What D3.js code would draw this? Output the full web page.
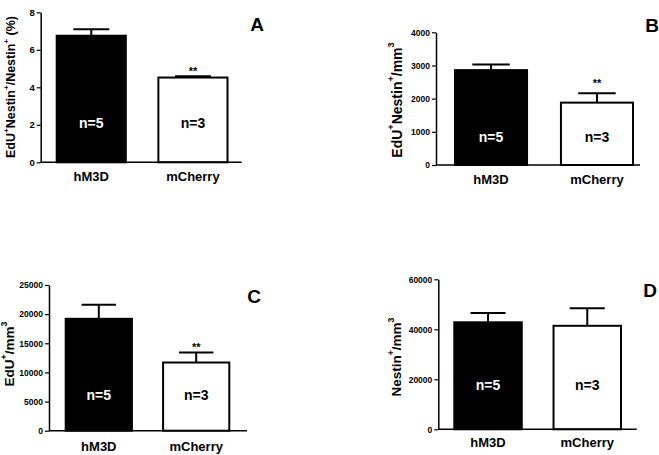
<!DOCTYPE html>
<html><head><meta charset="utf-8">
<script src="https://cdn.jsdelivr.net/npm/d3@7"></script>
<style>
body{margin:0;background:#fff}
svg text{font-family:"Liberation Sans",Arial,sans-serif;font-weight:bold;fill:#000}
</style>
</head><body>
<svg id="chart" width="659" height="455"></svg>
<script>
// ---- data ----
const categories = ["hM3D", "mCherry"];
const nLabels = ["n=5", "n=3"];

const meansA = [6.75, 4.52];
const semA   = [0.35, 0.07];
const ticksA = [0, 2, 4, 6, 8];

const meansB = [2860, 1880];
const semB   = [170, 280];
const ticksB = [0, 1000, 2000, 3000, 4000];

const meansC = [19200, 11700];
const semC   = [2400, 1700];
const ticksC = [0, 5000, 10000, 15000, 20000, 25000];

const meansD = [42800, 41400];
const semD   = [3700, 7000];
const ticksD = [0, 20000, 40000, 60000];

const sigA = ["", "**"], sigB = ["", "**"], sigC = ["", "**"], sigD = ["", ""];

const labelA = [["EdU",0],["+",1],["Nestin",0],["+",1],["/Nestin",0],["+",1],[" (%)",0]];
const labelB = [["EdU",0],["+",1],["Nestin",0],["+",1],["/mm",0],["3",1]];
const labelC = [["EdU",0],["+",1],["/mm",0],["3",1]];
const labelD = [["Nestin",0],["+",1],["/mm",0],["3",1]];

// ---- layout ----
const panels = [
  {letter:"A", means:meansA, sem:semA, ticks:ticksA, sig:sigA, label:labelA,
   ax:40.7, right:241.7, yTop:12.3, y0:162.3, b0:56.7, b1:227.5, tickFont:9.5,
   labX:12, labY:87, labFont:12.5, nY:128, catY:181, letX:257, letY:31, starOff:4},
  {letter:"B", means:meansB, sem:semB, ticks:ticksB, sig:sigB, label:labelB,
   ax:436, right:640, yTop:32.3, y0:165, b0:455, b1:633, tickFont:8.5,
   labX:398, labY:100, labFont:14, nY:142, catY:184, letX:652, letY:32, starOff:9},
  {letter:"C", means:meansC, sem:semC, ticks:ticksC, sig:sigC, label:labelC,
   ax:49, right:247, yTop:285, y0:430.7, b0:65.7, b1:229.3, tickFont:8.5,
   labX:10, labY:354, labFont:13.5, nY:400, catY:451, letX:254, letY:303, starOff:5},
  {letter:"D", means:meansD, sem:semD, ticks:ticksD, sig:sigD, label:labelD,
   ax:438.3, right:636.7, yTop:279.3, y0:429.3, b0:454.3, b1:621, tickFont:8.5,
   labX:397, labY:357, labFont:13.5, nY:390, catY:447, letX:650, letY:297, starOff:5}
];

const svg = d3.select("#chart");

panels.forEach(p => {
  const g = svg.append("g");
  const dmax = p.ticks[p.ticks.length - 1];
  const y = d3.scaleLinear().domain([0, dmax]).range([p.y0, p.yTop]);
  const x = d3.scaleBand().domain(categories).range([p.b0, p.b1])
              .paddingInner(0.32).paddingOuter(0);
  const bw = x.bandwidth();

  // bars
  g.selectAll("rect.bar").data(categories).join("rect")
    .attr("x", (c) => x(c))
    .attr("y", (c, i) => y(p.means[i]))
    .attr("width", bw)
    .attr("height", (c, i) => p.y0 - y(p.means[i]))
    .attr("fill", (c, i) => i === 0 ? "#000" : "#fff")
    .attr("stroke", "#000").attr("stroke-width", 2);

  // error bars (upper only)
  categories.forEach((c, i) => {
    const cx = x(c) + bw / 2;
    const top = y(p.means[i] + p.sem[i]);
    g.append("line").attr("x1", cx).attr("x2", cx)
      .attr("y1", y(p.means[i])).attr("y2", top)
      .attr("stroke", "#000").attr("stroke-width", 2);
    g.append("line").attr("x1", cx - bw * 0.26).attr("x2", cx + bw * 0.26)
      .attr("y1", top).attr("y2", top)
      .attr("stroke", "#000").attr("stroke-width", 2);
    if (p.sig[i]) {
      g.append("text").attr("x", cx).attr("y", top - p.starOff + 3)
        .attr("text-anchor", "middle").attr("font-size", 11).text(p.sig[i]);
    }
    g.append("text").attr("x", cx).attr("y", p.nY)
      .attr("text-anchor", "middle").attr("font-size", 14)
      .style("fill", i === 0 ? "#fff" : "#000").text(nLabels[i]);
    g.append("text").attr("x", cx).attr("y", p.catY)
      .attr("text-anchor", "middle").attr("font-size", 13).text(c);
  });

  // y axis
  const ya = g.append("g").attr("transform", `translate(${p.ax},0)`)
    .call(d3.axisLeft(y).tickValues(p.ticks).tickSize(4).tickSizeOuter(0).tickPadding(2)
          .tickFormat(d3.format("d")));
  ya.select(".domain").attr("stroke", "#000").attr("stroke-width", 1.5);
  ya.selectAll(".tick line").attr("stroke", "#000").attr("stroke-width", 1.2);
  ya.selectAll(".tick text").attr("font-size", p.tickFont)
    .style("font-family", '"Liberation Sans",Arial,sans-serif').style("font-weight", "bold");

  // x axis line
  g.append("line").attr("x1", p.ax).attr("x2", p.right)
    .attr("y1", p.y0).attr("y2", p.y0)
    .attr("stroke", "#000").attr("stroke-width", 1.5);

  // y label
  const t = g.append("text")
    .attr("transform", `translate(${p.labX},${p.labY}) rotate(-90)`)
    .attr("text-anchor", "middle").attr("dominant-baseline", "middle")
    .attr("font-size", p.labFont);
  let shift = 0;
  p.label.forEach(([s, sup]) => {
    const target = sup ? -p.labFont * 0.4 : 0;
    t.append("tspan").attr("dy", target - shift)
      .attr("font-size", sup ? p.labFont * 0.65 : p.labFont).text(s);
    shift = target;
  });

  // panel letter
  g.append("text").attr("x", p.letX).attr("y", p.letY)
    .attr("text-anchor", "middle").attr("font-size", 19).text(p.letter);
});
</script>
</body></html>
